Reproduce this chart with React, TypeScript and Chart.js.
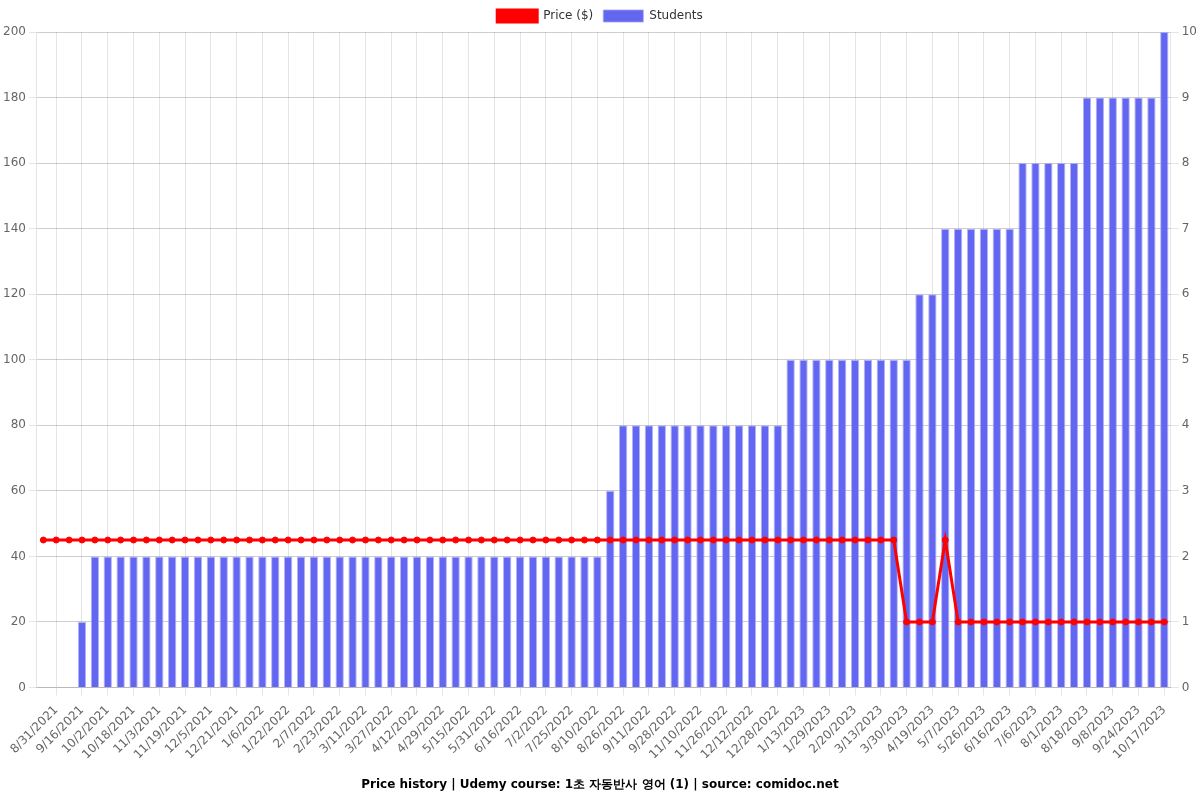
import React, { useEffect, useRef } from "react";
import { Chart, registerables } from "chart.js";

Chart.register(...registerables);

const dateLabels: string[] = [
  "8/23/2021", "8/31/2021", "9/8/2021", "9/16/2021", "9/24/2021", "10/2/2021", "10/10/2021", "10/18/2021",
  "10/26/2021", "11/3/2021", "11/11/2021", "11/19/2021", "11/27/2021", "12/5/2021", "12/13/2021", "12/21/2021",
  "12/29/2021", "1/6/2022", "1/14/2022", "1/22/2022", "1/30/2022", "2/7/2022", "2/15/2022", "2/23/2022",
  "3/3/2022", "3/11/2022", "3/19/2022", "3/27/2022", "4/4/2022", "4/12/2022", "4/20/2022", "4/29/2022",
  "5/7/2022", "5/15/2022", "5/23/2022", "5/31/2022", "6/8/2022", "6/16/2022", "6/24/2022", "7/2/2022",
  "7/12/2022", "7/25/2022", "8/2/2022", "8/10/2022", "8/18/2022", "8/26/2022", "9/3/2022", "9/11/2022",
  "9/19/2022", "9/28/2022", "10/20/2022", "11/10/2022", "11/18/2022", "11/26/2022", "12/4/2022", "12/12/2022",
  "12/20/2022", "12/28/2022", "1/5/2023", "1/13/2023", "1/21/2023", "1/29/2023", "2/8/2023", "2/20/2023",
  "3/2/2023", "3/13/2023", "3/21/2023", "3/30/2023", "4/9/2023", "4/19/2023", "4/28/2023", "5/7/2023",
  "5/16/2023", "5/26/2023", "6/5/2023", "6/16/2023", "6/26/2023", "7/6/2023", "7/19/2023", "8/1/2023",
  "8/9/2023", "8/18/2023", "8/28/2023", "9/8/2023", "9/16/2023", "9/24/2023", "10/5/2023", "10/17/2023",
];

const priceValues: number[] = [
  45, 45, 45, 45, 45, 45, 45, 45, 45, 45,
  45, 45, 45, 45, 45, 45, 45, 45, 45, 45,
  45, 45, 45, 45, 45, 45, 45, 45, 45, 45,
  45, 45, 45, 45, 45, 45, 45, 45, 45, 45,
  45, 45, 45, 45, 45, 45, 45, 45, 45, 45,
  45, 45, 45, 45, 45, 45, 45, 45, 45, 45,
  45, 45, 45, 45, 45, 45, 45, 20, 20, 20,
  45, 20, 20, 20, 20, 20, 20, 20, 20, 20,
  20, 20, 20, 20, 20, 20, 20, 20,
];

const studentValues: number[] = [
  0, 0, 0, 1, 2, 2, 2, 2, 2, 2,
  2, 2, 2, 2, 2, 2, 2, 2, 2, 2,
  2, 2, 2, 2, 2, 2, 2, 2, 2, 2,
  2, 2, 2, 2, 2, 2, 2, 2, 2, 2,
  2, 2, 2, 2, 3, 4, 4, 4, 4, 4,
  4, 4, 4, 4, 4, 4, 4, 4, 5, 5,
  5, 5, 5, 5, 5, 5, 5, 5, 6, 6,
  7, 7, 7, 7, 7, 7, 8, 8, 8, 8,
  8, 9, 9, 9, 9, 9, 9, 10,
];

const priceTicks = { min: 0, max: 200, step: 20 };
const studentTicks = { min: 0, max: 10, step: 1 };

const chartTitle = "Price history | Udemy course: 1초 자동반사 영어 (1) | source: comidoc.net";

export default function App() {
  const canvasRef = useRef<HTMLCanvasElement | null>(null);

  useEffect(() => {
    document.body.style.margin = "0";
    const canvas = canvasRef.current;
    if (!canvas) return;
    const font = "'DejaVu Sans', sans-serif";
    Chart.defaults.font.family = font;
    Chart.defaults.color = "#666";
    const chart = new Chart(canvas, {
      type: "bar",
      data: {
        labels: dateLabels,
        datasets: [
          {
            type: "line",
            label: "Price ($)",
            data: priceValues,
            yAxisID: "y",
            borderColor: "#ff0000",
            backgroundColor: "#ff0000",
            borderWidth: 3,
            pointRadius: 3,
            pointBorderWidth: 1,
            pointBackgroundColor: "#ff0000",
            pointBorderColor: "#ff0000",
            tension: 0,
            order: 0,
          },
          {
            type: "bar",
            label: "Students",
            data: studentValues,
            yAxisID: "y1",
            backgroundColor: "rgb(99,102,241)",
            borderColor: "rgba(160,162,245,0.8)",
            borderWidth: 1,
            barPercentage: 0.9,
            categoryPercentage: 0.72,
            order: 1,
          },
        ],
      },
      options: {
        animation: false,
        responsive: true,
        maintainAspectRatio: false,
        plugins: {
          legend: {
            position: "top",
            labels: { font: { size: 12, family: font }, color: "#333" },
          },
          title: {
            display: true,
            position: "bottom",
            text: chartTitle,
            color: "#000",
            font: { size: 12, weight: "bold", family: font },
            padding: { top: 8, bottom: 8 },
          },
          tooltip: { enabled: false },
        },
        scales: {
          x: {
            offset: true,
            grid: { offset: false, color: "rgba(0,0,0,0.1)" },
            ticks: {
              autoSkip: false,
              minRotation: 45,
              maxRotation: 45,
              padding: 7.5,
              font: { size: 12, family: font },
              callback: (_v: any, i: number) => (i % 2 === 1 ? dateLabels[i] : null),
            },
          },
          y: {
            position: "left",
            min: priceTicks.min,
            max: priceTicks.max,
            ticks: { stepSize: priceTicks.step, font: { size: 12, family: font } },
            grid: { color: "rgba(0,0,0,0.1)" },
          },
          y1: {
            position: "right",
            min: studentTicks.min,
            max: studentTicks.max,
            ticks: { stepSize: studentTicks.step, font: { size: 12, family: font } },
            grid: { color: "rgba(0,0,0,0.1)" },
          },
        },
      },
    });
    return () => chart.destroy();
  }, []);

  return (
    <div style={{ width: "1200px", height: "800px", position: "relative" }}>
      <canvas ref={canvasRef} />
    </div>
  );
}
